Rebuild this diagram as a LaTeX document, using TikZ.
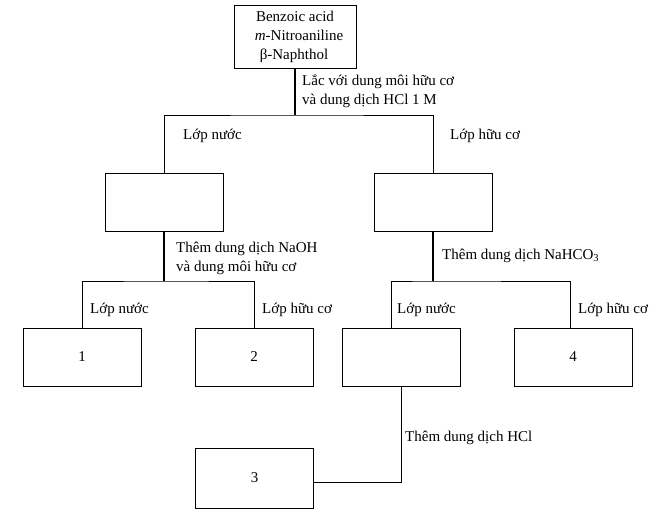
\documentclass[tikz,border=0pt]{standalone}
\usepackage{fontspec}
\setmainfont{Liberation Serif}
\begin{document}
\begin{tikzpicture}[x=1pt,y=-1pt,
  box/.style={draw,line width=1pt,rectangle,minimum width=118pt,minimum height=58pt,inner sep=0pt,font=\fontsize{15}{19}\selectfont},
  lbl/.style={anchor=west,inner sep=0pt,font=\fontsize{15}{19}\selectfont,align=left},
  thinline/.style={line width=1pt},
  thickline/.style={line width=2pt}]
\useasboundingbox (0,0) rectangle (659,514);
\node[box,minimum width=122pt,minimum height=63pt,align=center] (top) at (295,36.5)
  {Benzoic acid\\ \hspace*{8pt}\textit{m}-Nitroaniline\\ \hspace*{-2pt}β-Naphthol};
\node[box] (lmid) at (164,202) {};
\node[box] (rmid) at (433,202) {};
\node[box] (b1) at (82,357) {1};
\node[box] (b2) at (254,357) {2};
\node[box] (ba) at (401,357) {};
\node[box] (b4) at (573,357) {4};
\node[box,minimum height=60pt] (b3) at (254.5,478) {3};
\coordinate (j1) at (295,115);
\coordinate (j2) at (164,281);
\coordinate (j3) at (433,281);
\coordinate (j4) at (401,482);
\coordinate (baleg) at ([xshift=-10pt]ba.north);
\coordinate (b4leg) at ([xshift=-3pt]b4.north);
% top split
\draw[thickline] (top.south) -- (j1);
\draw[thinline] (lmid.north) |- (j1) -| (rmid.north);
% left split
\draw[thickline] (lmid.south) -- (j2);
\draw[thinline] (b1.north) |- (j2) -| (b2.north);
% right split
\draw[thickline] (rmid.south) -- (j3);
\draw[thinline] (baleg) |- (j3) -| (b4leg);
% HCl
\draw[thinline] (ba.south) -- (j4) -- (b3.east |- j4);
% labels
\node[lbl] (t1) at (302,91) {Lắc với dung môi hữu cơ\\và dung dịch HCl 1 M};
\node[lbl] (t2) at (183,136) {Lớp nước};
\node[lbl] (t3) at (450,136) {Lớp hữu cơ};
\node[lbl] (t4) at (176,258) {Thêm dung dịch NaOH\\và dung môi hữu cơ};
\node[lbl] (t5) at (442,256) {Thêm dung dịch NaHCO\textsubscript{3}};
\node[lbl] (t6) at (90,310) {Lớp nước};
\node[lbl] (t7) at (262,310) {Lớp hữu cơ};
\node[lbl] (t8) at (397,310) {Lớp nước};
\node[lbl] (t9) at (578,310) {Lớp hữu cơ};
\node[lbl] (t10) at (405,438) {Thêm dung dịch HCl};
\end{tikzpicture}
\end{document}
